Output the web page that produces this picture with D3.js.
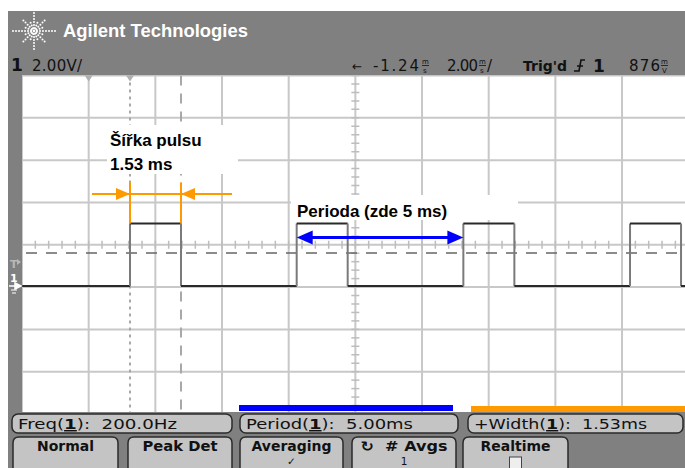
<!DOCTYPE html>
<html><head><meta charset="utf-8">
<script src="https://cdn.jsdelivr.net/npm/d3@7"></script>
<style>html,body{margin:0;padding:0;background:#fff;}svg{display:block;}</style>
</head><body>
<svg id="c" width="685" height="468"></svg>
<script>
// ---- data ----
const waveT = [-11.24, -8.0, -8.0, -6.47, -6.47, -3.0, -3.0, -1.47, -1.47, 2.0, 2.0, 3.53, 3.53, 7.0, 7.0, 8.53, 8.53, 8.76];
const waveV = [0, 0, 2.95, 2.95, 0, 0, 2.95, 2.95, 0, 0, 2.95, 2.95, 0, 0, 2.95, 2.95, 0, 0];
const timeDiv = 2.0;          // ms/div
const timeDelay = -1.24;      // ms
const voltDiv = 2.0;          // V/div
const centerVolt = 1.95;      // V at screen centre
const trigLevel = 1.56;       // V
const cursorT = [-8.0, -6.47];
const widthArrow = {t0: -8.0, t1: -6.47, v: 4.35, from: -9.14, to: -4.94, tickTop: 4.9, tickBot: 2.95};
const periodArrow = {t0: -3.0, t1: 2.0, v: 2.29};
const measLabels = ["Freq", "Period", "+Width"];
const measValues = ["200.0Hz", "5.00ms", "1.53ms"];
const buttonLabels = ["Normal", "Peak Det", "Averaging", "\u21BB  # Avgs", "Realtime"];
const buttonSub = ["", "", "\u2713", "1", "box"];

// ---- layout ----
const svg = d3.select("#c");
const G = {x0: 22, x1: 688.7, y0: 75.5, y1: 414};
const x = d3.scaleLinear().domain([timeDelay - 5 * timeDiv, timeDelay + 5 * timeDiv]).range([G.x0, G.x1]);
const y = d3.scaleLinear().domain([centerVolt - 4 * voltDiv, centerVolt + 4 * voltDiv]).range([G.y1, G.y0]);
const gray = "#808080";
const font = "'DejaVu Sans', sans-serif";

function txt(parent, px, py, s, size, len, opts = {}) {
  const t = parent.append("text").attr("x", px).attr("y", py).attr("font-family", opts.family || font)
    .attr("font-size", size).attr("fill", opts.fill || "#111").attr("xml:space", "preserve").text(s);
  if (opts.bold) t.attr("font-weight", "bold");
  if (opts.anchor) t.attr("text-anchor", opts.anchor);
  if (len) t.attr("textLength", len).attr("lengthAdjust", opts.adjust || "spacingAndGlyphs");
  return t;
}

// panel background
svg.append("rect").attr("x", 8).attr("y", 11).attr("width", 677).attr("height", 457).attr("fill", gray);
// graticule area
svg.append("rect").attr("x", G.x0).attr("y", G.y0).attr("width", 685 - G.x0).attr("height", G.y1 - G.y0 - 2).attr("fill", "#fff");

svg.append("clipPath").attr("id", "gclip").append("rect").attr("x", G.x0).attr("y", G.y0).attr("width", 685 - G.x0).attr("height", G.y1 - G.y0 - 2);
const grid = svg.append("g").attr("clip-path", "url(#gclip)");

const vLines = d3.range(0, 11).map(i => x.domain()[0] + i * timeDiv);
const hLines = d3.range(0, 9).map(i => y.domain()[0] + i * voltDiv);
grid.selectAll("line.v").data(vLines).join("line")
  .attr("x1", d => x(d)).attr("x2", d => x(d)).attr("y1", G.y0).attr("y2", G.y1)
  .attr("stroke", "#c8c8c8").attr("stroke-width", 2);
grid.selectAll("line.h").data(hLines).join("line")
  .attr("x1", G.x0).attr("x2", 690).attr("y1", d => y(d)).attr("y2", d => y(d))
  .attr("stroke", "#c8c8c8").attr("stroke-width", 2);
// minor ticks on centre axes
const minorT = d3.range(0, 51).map(i => x.domain()[0] + i * timeDiv / 5);
grid.selectAll("line.mt").data(minorT).join("line")
  .attr("x1", d => x(d)).attr("x2", d => x(d)).attr("y1", y(centerVolt) - 4).attr("y2", y(centerVolt) + 4)
  .attr("stroke", "#bdbdbd").attr("stroke-width", 1.5);
const minorV = d3.range(0, 41).map(i => y.domain()[0] + i * voltDiv / 5);
grid.selectAll("line.mv").data(minorV).join("line")
  .attr("x1", x(timeDelay) - 4).attr("x2", x(timeDelay) + 4).attr("y1", d => y(d)).attr("y2", d => y(d))
  .attr("stroke", "#bdbdbd").attr("stroke-width", 1.5);

// trigger level dashed line
grid.append("line").attr("x1", G.x0 + 4).attr("x2", 690).attr("y1", y(trigLevel)).attr("y2", y(trigLevel))
  .attr("stroke", "#666").attr("stroke-width", 1.5).attr("stroke-dasharray", "11,9");
// cursors
grid.append("line").attr("x1", x(cursorT[0])).attr("x2", x(cursorT[0])).attr("y1", G.y0).attr("y2", G.y1)
  .attr("stroke", "#a8a8a8").attr("stroke-width", 2).attr("stroke-dasharray", "3,4");
grid.append("line").attr("x1", x(cursorT[1])).attr("x2", x(cursorT[1])).attr("y1", G.y0).attr("y2", G.y1)
  .attr("stroke", "#a8a8a8").attr("stroke-width", 2).attr("stroke-dasharray", "10,8");
// top markers
[x(x.domain()[0] + timeDiv), x(cursorT[0])].forEach(cx => {
  svg.append("path").attr("d", `M${cx - 4},${G.y0}L${cx + 4},${G.y0}L${cx},${G.y0 + 6}Z`).attr("fill", "#b0b0b0");
});

// waveform
const pts = waveT.map((t, i) => [t, waveV[i]]);
const segs = [];
for (let i = 0; i < pts.length - 1; i++) segs.push([pts[i], pts[i + 1]]);
grid.selectAll("line.w").data(segs).join("line")
  .attr("x1", d => x(d[0][0])).attr("x2", d => x(d[1][0]))
  .attr("y1", d => y(d[0][1])).attr("y2", d => y(d[1][1]))
  .attr("stroke", d => d[0][0] === d[1][0] ? "#7a7a7a" : "#2a2a2a")
  .attr("stroke-width", 2);

// left strip markers
txt(svg, 10, 268, "T", 11, null, {fill: "#b8b8b8", bold: true});
svg.append("path").attr("d", "M17,259 L21,262 L17,265Z").attr("fill", "#b8b8b8");
txt(svg, 10, 282, "1", 11, null, {fill: "#fff", bold: true});
svg.append("path").attr("d", `M9,${y(0)} L16,${y(0)} M15,${y(0) - 3} L21,${y(0)} L15,${y(0) + 3}Z`).attr("stroke", "#fff").attr("fill", "#fff").attr("stroke-width", 1.5);
svg.append("path").attr("d", `M11,${y(0) + 4} L17,${y(0) + 4} M12,${y(0) + 7} L16,${y(0) + 7}`).attr("stroke", "#fff").attr("stroke-width", 1);

// header: logo
const logo = svg.append("g").attr("transform", "translate(34,31)");
const arms = [[0, 21], [90, 18], [180, 21], [270, 18], [45, 15], [135, 15], [225, 15], [315, 15], [22, 10], [68, 10], [112, 10], [158, 10], [202, 10], [248, 10], [292, 10], [338, 10]];
arms.forEach(([a, r]) => {
  const rad = a * Math.PI / 180;
  for (let s = 3; s <= r; s += 3) {
    logo.append("circle").attr("cx", s * Math.cos(rad)).attr("cy", s * Math.sin(rad)).attr("r", 1).attr("fill", "#fff");
  }
});
logo.append("circle").attr("r", 1.4).attr("fill", "#fff");
txt(svg, 63, 37, "Agilent Technologies", 17.5, 185, {family: "'Liberation Sans', Arial, sans-serif", bold: true, fill: "#fff"});

// status line
const st = svg.append("g");
txt(st, 11, 71, "1", 17, null, {bold: true});
txt(st, 32, 71, "2.00V/", 15, 50, {adjust: "spacing"});
txt(st, 352, 71, "\u2190", 13, 10);
txt(st, 373, 71, "-1.24", 15, 46, {adjust: "spacing"});
function stacked(px, top, bot) {
  txt(st, px, 63.5, top, 7, null);
  st.append("line").attr("x1", px).attr("x2", px + 7).attr("y1", 65.5).attr("y2", 65.5).attr("stroke", "#111").attr("stroke-width", 0.8);
  txt(st, px + 1, 72.5, bot, 7, null);
}
stacked(422, "m", "s");
txt(st, 447, 71, "2.00", 15, 31, {adjust: "spacing"});
stacked(479, "m", "s");
txt(st, 487, 71, "/", 15, null);
txt(st, 523, 71, "Trig'd", 14, 44, {bold: true});
st.append("path").attr("d", "M574,71 L579,71 L581,60 L585,60 M577,66 L583,66").attr("stroke", "#111").attr("stroke-width", 1.6).attr("fill", "none");
txt(st, 593, 72, "1", 17, null, {bold: true});
txt(st, 629, 71, "876", 15, 31, {adjust: "spacing"});
stacked(661, "m", "V");

// measurement colour bars
svg.append("rect").attr("x", 239).attr("y", 405).attr("width", 214).attr("height", 6).attr("fill", "#0000ff");
svg.append("rect").attr("x", 471).attr("y", 406).attr("width", 214).attr("height", 6).attr("fill", "#ff9900");

// measurement boxes
const boxX = [12, 240, 468];
const boxW = [220, 218, 215];
const textLen = [159, 167, 173];
measLabels.forEach((lab, i) => {
  svg.append("rect").attr("x", boxX[i]).attr("y", 414).attr("width", boxW[i]).attr("height", 19).attr("rx", 6)
    .attr("fill", "#c4c4c4").attr("stroke", "#2a2a2a").attr("stroke-width", 1.5);
  const t = svg.append("text").attr("x", boxX[i] + 6).attr("y", 429).attr("font-family", font).attr("font-size", 14.5)
    .attr("fill", "#111").attr("xml:space", "preserve").attr("textLength", textLen[i]).attr("lengthAdjust", "spacingAndGlyphs");
  t.append("tspan").text(lab + "(");
  t.append("tspan").attr("text-decoration", "underline").attr("font-weight", "bold").text("1");
  t.append("tspan").text("):  " + measValues[i]);
});

// buttons
const btnX = [13, 128, 240, 352, 463];
const btnW = [105, 104, 103, 104, 105];
const btnLen = [57, 75, 80, 87, 70];
buttonLabels.forEach((lab, i) => {
  svg.append("path").attr("d", `M${btnX[i]},470 L${btnX[i]},${443} Q${btnX[i]},437 ${btnX[i] + 6},437 L${btnX[i] + btnW[i] - 6},437 Q${btnX[i] + btnW[i]},437 ${btnX[i] + btnW[i]},443 L${btnX[i] + btnW[i]},470`)
    .attr("fill", "#c4c4c4").attr("stroke", "#2a2a2a").attr("stroke-width", 1.5);
  const cx = btnX[i] + btnW[i] / 2;
  txt(svg, cx, 451, lab, 14, btnLen[i], {bold: true, anchor: "middle"});
  if (buttonSub[i] === "box") {
    svg.append("rect").attr("x", cx - 6).attr("y", 457).attr("width", 12).attr("height", 14).attr("fill", "#eee").attr("stroke", "#444");
  } else if (buttonSub[i]) {
    txt(svg, cx, 464.5, buttonSub[i], 10.5, null, {anchor: "middle"});
  }
});

// ---- annotations ----
const annFam = "'Liberation Sans', Arial, sans-serif";
svg.append("rect").attr("x", 107).attr("y", 125).attr("width", 131).attr("height", 49).attr("fill", "#fff");
svg.append("rect").attr("x", 291).attr("y", 195).attr("width", 227).attr("height", 25).attr("fill", "#fff");
const ann = svg.append("g");
txt(ann, 110, 146, "Šířka pulsu", 17, null, {family: annFam, bold: true, fill: "#000"});
txt(ann, 110, 170, "1.53 ms", 17, null, {family: annFam, bold: true, fill: "#000"});
txt(ann, 297, 217, "Perioda (zde 5 ms)", 17, null, {family: annFam, bold: true, fill: "#000"});

// orange width arrow
const orange = "#ff9900";
const oy = y(widthArrow.v);
svg.append("line").attr("x1", x(widthArrow.from)).attr("x2", x(widthArrow.to)).attr("y1", oy).attr("y2", oy).attr("stroke", orange).attr("stroke-width", 2);
[widthArrow.t0, widthArrow.t1].forEach(t => {
  svg.append("line").attr("x1", x(t)).attr("x2", x(t)).attr("y1", y(widthArrow.tickTop)).attr("y2", y(widthArrow.tickBot)).attr("stroke", orange).attr("stroke-width", 2);
});
svg.append("path").attr("d", `M${x(widthArrow.t0)},${oy} L${x(widthArrow.t0) - 14},${oy - 6} L${x(widthArrow.t0) - 14},${oy + 6}Z`).attr("fill", orange);
svg.append("path").attr("d", `M${x(widthArrow.t1)},${oy} L${x(widthArrow.t1) + 14},${oy - 6} L${x(widthArrow.t1) + 14},${oy + 6}Z`).attr("fill", orange);

// blue period arrow
const blue = "#0000ff";
const by = y(periodArrow.v);
svg.append("line").attr("x1", x(periodArrow.t0) + 10).attr("x2", x(periodArrow.t1) - 10).attr("y1", by).attr("y2", by).attr("stroke", blue).attr("stroke-width", 3);
svg.append("path").attr("d", `M${x(periodArrow.t0)},${by} L${x(periodArrow.t0) + 16},${by - 7} L${x(periodArrow.t0) + 16},${by + 7}Z`).attr("fill", blue);
svg.append("path").attr("d", `M${x(periodArrow.t1)},${by} L${x(periodArrow.t1) - 16},${by - 7} L${x(periodArrow.t1) - 16},${by + 7}Z`).attr("fill", blue);
</script>
</body></html>
